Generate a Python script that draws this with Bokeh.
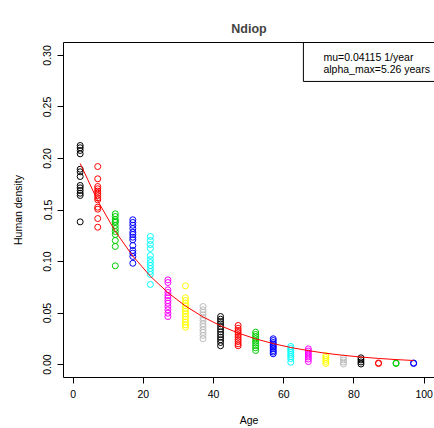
from bokeh.plotting import figure
from bokeh.models import FixedTicker, LinearAxis, Range1d, Label, NumeralTickFormatter
from bokeh.embed import file_html
from bokeh.resources import INLINE

# ---- data ----
ages = [2, 7, 12, 17, 22, 27, 32, 37, 42, 47, 52, 57, 62, 67, 72, 77, 82, 87, 92, 97]
palette = ["black", "red", "#00CD00", "blue", "cyan", "magenta", "yellow", "#BEBEBE"]

d02 = [0.2126, 0.2104, 0.2078, 0.2045, 0.1896, 0.1871, 0.1825, 0.1738, 0.1715, 0.1689, 0.1663, 0.1641, 0.1385]
d07 = [0.1922, 0.1803, 0.1728, 0.1706, 0.1683, 0.1663, 0.1641, 0.1618, 0.1599, 0.1527, 0.1508, 0.1417, 0.1333]
d12 = [0.1463, 0.1437, 0.1408, 0.1390, 0.1379, 0.1350, 0.1320, 0.1291, 0.1262, 0.1204, 0.1146, 0.0958]
d17 = [0.1405, 0.1379, 0.1352, 0.1320, 0.1284, 0.1262, 0.1236, 0.1211, 0.1155, 0.1107, 0.1081, 0.1049, 0.0983]
d22 = [0.1243, 0.1204, 0.1165, 0.1126, 0.1058, 0.1019, 0.0990, 0.0961, 0.0932, 0.0903, 0.0874, 0.0777]
d27 = [0.0822, 0.0796, 0.0725, 0.0699, 0.0670, 0.0648, 0.0621, 0.0595, 0.0563, 0.0531, 0.0498, 0.0466]
d32 = [0.0764, 0.0648, 0.0621, 0.0595, 0.0570, 0.0544, 0.0517, 0.0492, 0.0466, 0.0440, 0.0411, 0.0385, 0.0362]
d37 = [0.0563, 0.0531, 0.0508, 0.0483, 0.0453, 0.0427, 0.0395, 0.0369, 0.0337, 0.0311, 0.0282, 0.0250]
d42 = [0.0466, 0.0440, 0.0417, 0.0395, 0.0369, 0.0343, 0.0317, 0.0291, 0.0265, 0.0240, 0.0214, 0.0182]
d47 = [0.0379, 0.0352, 0.0330, 0.0311, 0.0288, 0.0265, 0.0243, 0.0223, 0.0201, 0.0182]
d52 = [0.0314, 0.0291, 0.0272, 0.0250, 0.0227, 0.0207, 0.0184, 0.0162, 0.0136]
d57 = [0.0250, 0.0233, 0.0214, 0.0199, 0.0184, 0.0170, 0.0155, 0.0136, 0.0121, 0.0104]
d62 = [0.0175, 0.0155, 0.0136, 0.0117, 0.0097, 0.0078, 0.0058, 0.0022]
d67 = [0.0152, 0.0131, 0.0112, 0.0092, 0.0073, 0.0053, 0.0029]
d72 = [0.0087, 0.0068, 0.0049, 0.0029, 0.0010]
d77 = [0.0065, 0.0044, 0.0024, 0.0005]
d82 = [0.0065, 0.0045, 0.0025, 0.0005]
d87 = [0.0015, 0.0010]
d92 = [0.0015, 0.0010]
d97 = [0.0015, 0.0010]
groups = [d02, d07, d12, d17, d22, d27, d32, d37, d42, d47,
          d52, d57, d62, d67, d72, d77, d82, d87, d92, d97]

# fitted exponential curve read at each age group
curve = [0.1952, 0.1589, 0.1293, 0.1053, 0.0857, 0.0698, 0.0568, 0.0462, 0.0376, 0.0306,
         0.0249, 0.0203, 0.0165, 0.0135, 0.0109, 0.0089, 0.0073, 0.0059, 0.0048, 0.0039]

x_ticks = [0, 20, 40, 60, 80, 100]
y_ticks = [0.0, 0.05, 0.10, 0.15, 0.20, 0.25, 0.30]
legend_lines = ["mu=0.04115 1/year", "alpha_max=5.26 years"]
title_text = "Ndiop"

FONT = "Liberation Sans"
FS = "10.5px"

p = figure(width=434, height=428,
           x_range=Range1d(-2.75, 102.95), y_range=Range1d(-0.0126, 0.3126),
           output_backend="svg", toolbar_location=None,
           min_border_left=63, min_border_right=0, min_border_top=42, min_border_bottom=51,
           title=title_text)
p.background_fill_color = "white"
p.border_fill_color = "white"
p.outline_line_color = None
p.xgrid.visible = False
p.ygrid.visible = False

p.title.align = "center"
p.title.text_font = FONT
p.title.text_font_size = "12.5px"
p.title.text_font_style = "bold"
p.title.standoff = 14

for ax in (p.xaxis[0], p.yaxis[0]):
    ax.major_tick_out = 6
    ax.major_tick_in = 0
    ax.minor_tick_out = 0
    ax.minor_tick_in = 0
    ax.axis_line_color = "black"
    ax.major_tick_line_color = "black"
    ax.major_label_text_font = FONT
    ax.major_label_text_font_size = FS
    ax.major_label_text_color = "black"
    ax.axis_label_text_font = FONT
    ax.axis_label_text_font_size = FS
    ax.axis_label_text_font_style = "normal"
    ax.axis_label_text_color = "black"

p.xaxis.ticker = FixedTicker(ticks=x_ticks)
p.xaxis.axis_label = "Age"
p.xaxis.major_label_standoff = 6
p.xaxis.axis_label_standoff = 13

p.yaxis.ticker = FixedTicker(ticks=y_ticks)
p.yaxis.formatter = NumeralTickFormatter(format="0.00")
p.yaxis.major_label_orientation = "vertical"
p.yaxis.axis_label = "Human density"
p.yaxis.major_label_standoff = 6
p.yaxis.axis_label_standoff = 17

top_axis = LinearAxis(ticker=FixedTicker(ticks=[]), axis_line_color="black",
                      major_label_text_font_size="0px", major_tick_out=0, major_tick_in=0,
                      minor_tick_out=0, minor_tick_in=0)
p.add_layout(top_axis, "above")

# points
for i, (a, vals) in enumerate(zip(ages, groups)):
    p.scatter(x=[a] * len(vals), y=vals, marker="circle", size=6,
              fill_color=None, line_color=palette[i % len(palette)], line_width=1)

# fitted curve
p.line(ages, curve, line_color="red", line_width=1)

# legend box (open to the right, clipped by the frame)
lx, lb = 65.6, 0.2748
p.line([lx, lx, 120], [0.4, lb, lb], line_color="black", line_width=1)
for j, t in enumerate(legend_lines):
    p.add_layout(Label(x=71.3, y=0.299 - j * 0.0126, text=t, text_font=FONT,
                       text_font_size=FS, text_baseline="middle", text_color="black"))

open("out.html", "w").write(file_html(p, INLINE))
